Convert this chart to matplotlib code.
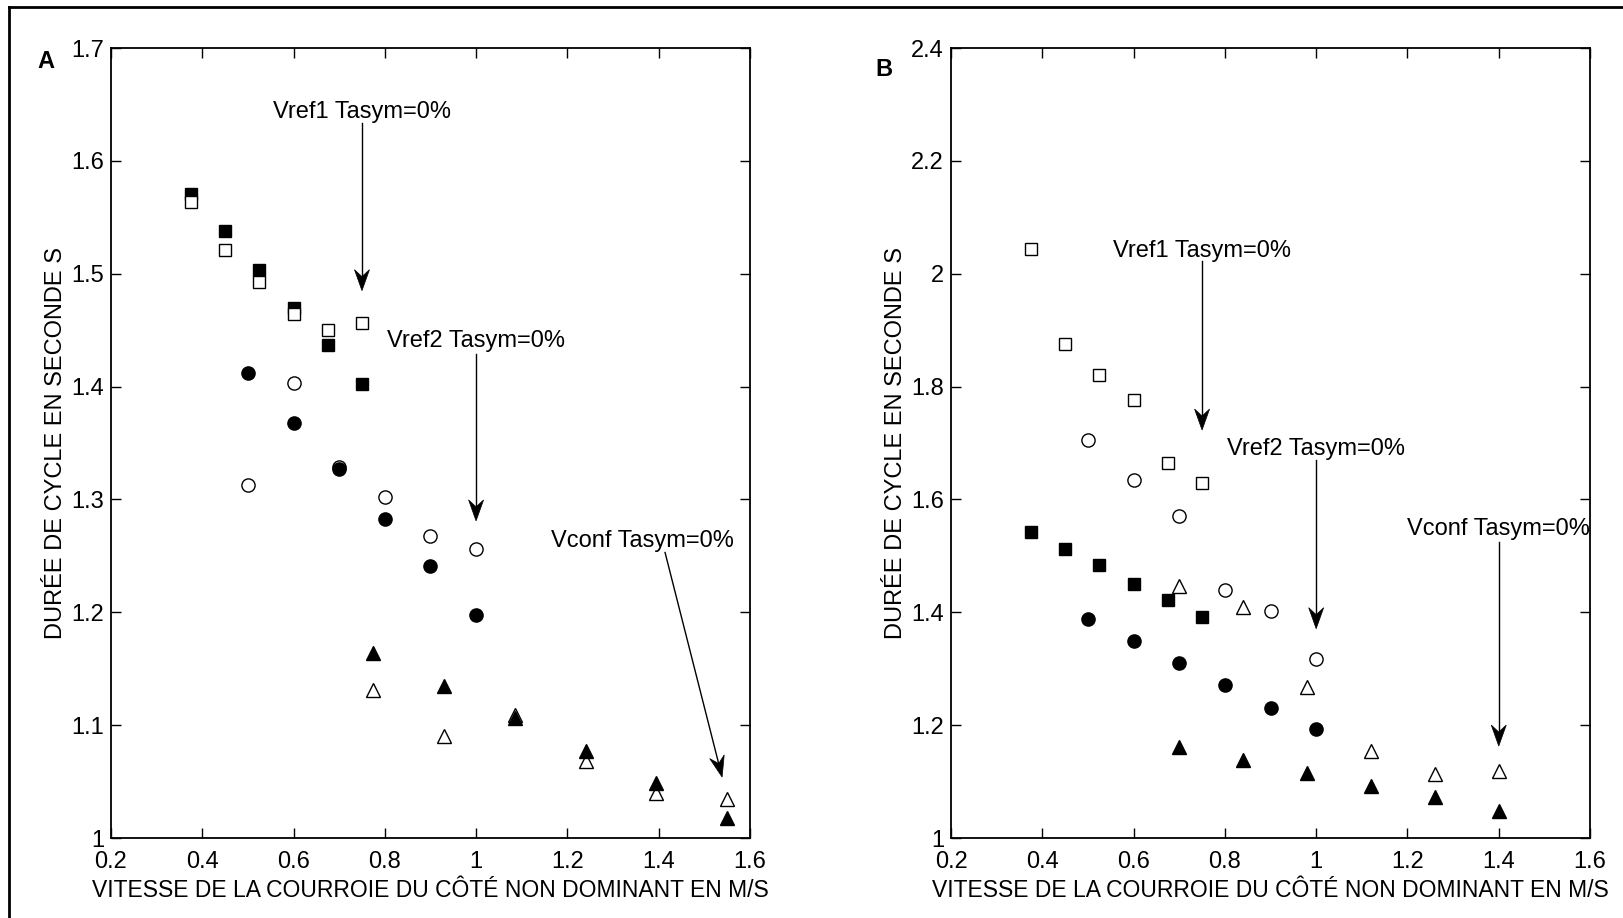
import numpy as np
import matplotlib
matplotlib.use('Agg')
from matplotlib import pyplot as plt
from matplotlib.lines import Line2D
from matplotlib.patches import Polygon
from matplotlib import transforms

# Panel A data
xA_sq = [0.375, 0.45, 0.525, 0.6, 0.675, 0.75]
yA_sq_full = [1.571, 1.538, 1.503, 1.470, 1.437, 1.402]
yA_sq_open = [1.564, 1.521, 1.493, 1.464, 1.450, 1.456]
xA_ci = [0.5, 0.6, 0.7, 0.8, 0.9, 1.0]
yA_ci_full = [1.412, 1.368, 1.327, 1.283, 1.241, 1.198]
yA_ci_open = [1.313, 1.403, 1.329, 1.302, 1.268, 1.256]
xA_tr = [0.775, 0.93, 1.085, 1.24, 1.395, 1.55]
yA_tr_full = [1.164, 1.135, 1.106, 1.077, 1.049, 1.018]
yA_tr_open = [1.131, 1.090, 1.109, 1.068, 1.040, 1.035]

# Panel B data
xB_sq = [0.375, 0.45, 0.525, 0.6, 0.675, 0.75]
yB_sq_full = [1.543, 1.512, 1.483, 1.451, 1.422, 1.391]
yB_sq_open = [2.044, 1.875, 1.820, 1.776, 1.664, 1.629]
xB_ci = [0.5, 0.6, 0.7, 0.8, 0.9, 1.0]
yB_ci_full = [1.389, 1.350, 1.310, 1.272, 1.231, 1.194]
yB_ci_open = [1.705, 1.635, 1.571, 1.440, 1.402, 1.317]
xB_tr = [0.7, 0.84, 0.98, 1.12, 1.26, 1.40]
yB_tr_full = [1.161, 1.138, 1.116, 1.092, 1.072, 1.048]
yB_tr_open = [1.446, 1.409, 1.268, 1.154, 1.114, 1.119]

xticklabels = ['0.2', '0.4', '0.6', '0.8', '1', '1.2', '1.4', '1.6']
yticklabelsA = ['1', '1.1', '1.2', '1.3', '1.4', '1.5', '1.6', '1.7']
yticklabelsB = ['1', '1.2', '1.4', '1.6', '1.8', '2', '2.2', '2.4']
xlabel = 'VITESSE DE LA COURROIE DU CÔTÉ NON DOMINANT EN M/S'
ylabel = 'DURÉE DE CYCLE EN SECONDE S'
arial = ['Liberation Sans', 'DejaVu Sans']

fig = plt.figure(figsize=(16.24, 9.18), dpi=100)
axA = fig.add_axes([0.0683, 0.0871, 0.3935, 0.8606])
axB = fig.add_axes([0.5856, 0.0871, 0.3935, 0.8606])
axA.set_xlim(0.2, 1.6); axA.set_ylim(1.0, 1.7)
axB.set_xlim(0.2, 1.6); axB.set_ylim(1.0, 2.4)

def pts(ax, x, y, m, filled, ms, z):
    ax.plot(x, y, linestyle='none', marker=m, ms=ms,
            mfc='black' if filled else 'white', mec='black', mew=1.0, zorder=z)

def arrow(ax, text, tx, ty, x0, y0, x1, y1):
    ax.text(tx, ty, text, ha='center', va='center', fontsize=17, family=arial)
    # stealth style head, built in inches around the tip
    p0 = ax.transData.transform((x0, y0))
    p1 = ax.transData.transform((x1, y1))
    d = (p1 - p0) / np.hypot(*(p1 - p0))
    n = np.array([-d[1], d[0]])
    L, W, notch = 0.21, 0.075, 0.14
    verts = [(0, 0), -L*d + W*n, -notch*d, -L*d - W*n]
    tr = fig.dpi_scale_trans + transforms.ScaledTranslation(x1, y1, ax.transData)
    ax.add_patch(Polygon(verts, closed=True, transform=tr, fc='black',
                         ec='black', lw=0.5, zorder=5, clip_on=False))
    # shaft ends at the notch
    pe = p1 - notch*d*fig.dpi
    xe, ye = ax.transData.inverted().transform(pe)
    ax.plot([x0, xe], [y0, ye], color='black', lw=1.0, zorder=5)

# panel A
pts(axA, xA_sq, yA_sq_full, 's', True, 9, 3)
pts(axA, xA_sq, yA_sq_open, 's', False, 9, 4)
pts(axA, xA_ci, yA_ci_open, 'o', False, 9.5, 3)
pts(axA, xA_ci, yA_ci_full, 'o', True, 9.5, 4)
pts(axA, xA_tr, yA_tr_open, '^', False, 10, 3)
pts(axA, xA_tr, yA_tr_full, '^', True, 10, 4)
axA.set_xticks(np.arange(0.2, 1.61, 0.2))
axA.set_yticks(np.arange(1.0, 1.71, 0.1))
axA.set_xticklabels(xticklabels)
axA.set_yticklabels(yticklabelsA)
arrow(axA, 'Vref1 Tasym=0%', 0.75, 1.643, 0.75, 1.634, 0.75, 1.485)
arrow(axA, 'Vref2 Tasym=0%', 1.0, 1.440, 1.0, 1.429, 1.0, 1.281)
arrow(axA, 'Vconf Tasym=0%', 1.364, 1.263, 1.414, 1.253, 1.539, 1.054)

# panel B
pts(axB, xB_sq, yB_sq_full, 's', True, 9, 3)
pts(axB, xB_sq, yB_sq_open, 's', False, 9, 4)
pts(axB, xB_ci, yB_ci_open, 'o', False, 9.5, 3)
pts(axB, xB_ci, yB_ci_full, 'o', True, 9.5, 4)
pts(axB, xB_tr, yB_tr_open, '^', False, 10, 3)
pts(axB, xB_tr, yB_tr_full, '^', True, 10, 4)
axB.set_xticks(np.arange(0.2, 1.61, 0.2))
axB.set_yticks(np.arange(1.0, 2.41, 0.2))
axB.set_xticklabels(xticklabels)
axB.set_yticklabels(yticklabelsB)
arrow(axB, 'Vref1 Tasym=0%', 0.75, 2.040, 0.75, 2.022, 0.75, 1.723)
arrow(axB, 'Vref2 Tasym=0%', 1.0, 1.690, 1.0, 1.670, 1.0, 1.371)
arrow(axB, 'Vconf Tasym=0%', 1.4, 1.547, 1.4, 1.525, 1.4, 1.163)

for ax in (axA, axB):
    ax.tick_params(direction='in', top=True, right=True, length=7, width=1,
                   labelsize=17)
    ax.tick_params(axis='x', pad=9)
    ax.tick_params(axis='y', pad=5)
    for lab in ax.get_xticklabels() + ax.get_yticklabels():
        lab.set_family(arial)
    for s in ax.spines.values():
        s.set_linewidth(1.3)
    ax.set_xlabel(xlabel, fontsize=16.5, family=arial, labelpad=5)
    ax.set_ylabel(ylabel, fontsize=17, family=arial, labelpad=3)

fig.text(44/1568, 1 - 59/886, 'A', fontsize=17, fontweight='bold', family=arial,
         ha='center', va='center')
fig.text(853/1568, 1 - 67/886, 'B', fontsize=17, fontweight='bold', family=arial,
         ha='center', va='center')

# outer frame (clipped at right and bottom)
fig.add_artist(Line2D([9/1624, 1.0], [1 - 7/918, 1 - 7/918], color='black', lw=2,
                      transform=fig.transFigure))
fig.add_artist(Line2D([9/1624, 9/1624], [0.0, 1 - 7/918], color='black', lw=2,
                      transform=fig.transFigure))

fig.savefig('out.png', dpi=100)
